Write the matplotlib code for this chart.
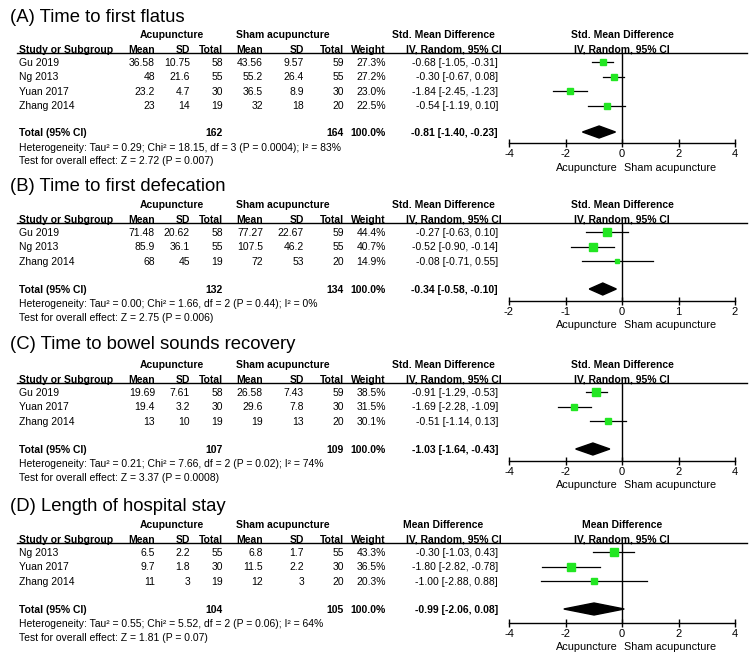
import matplotlib
matplotlib.use("Agg")
import matplotlib.pyplot as plt
from matplotlib.lines import Line2D
import numpy as np

plt.rcParams['font.family'] = ['Liberation Sans', 'DejaVu Sans']

# ---------------- data ----------------
A_title = "(A) Time to first flatus"
A_measure = "Std. Mean Difference"
A_studies = ["Gu 2019", "Ng 2013", "Yuan 2017", "Zhang 2014"]
A_acu_mean = [36.58, 48, 23.2, 23]
A_acu_sd = [10.75, 21.6, 4.7, 14]
A_acu_n = [58, 55, 30, 19]
A_sham_mean = [43.56, 55.2, 36.5, 32]
A_sham_sd = [9.57, 26.4, 8.9, 18]
A_sham_n = [59, 55, 30, 20]
A_weight = [27.3, 27.2, 23.0, 22.5]
A_est = [-0.68, -0.30, -1.84, -0.54]
A_lo = [-1.05, -0.67, -2.45, -1.19]
A_hi = [-0.31, 0.08, -1.23, 0.10]
A_total = [-0.81, -1.40, -0.23]
A_het = "Heterogeneity: Tau² = 0.29; Chi² = 18.15, df = 3 (P = 0.0004); I² = 83%"
A_test = "Test for overall effect: Z = 2.72 (P = 0.007)"
A_ticks = [-4, -2, 0, 2, 4]

B_title = "(B) Time to first defecation"
B_measure = "Std. Mean Difference"
B_studies = ["Gu 2019", "Ng 2013", "Zhang 2014"]
B_acu_mean = [71.48, 85.9, 68]
B_acu_sd = [20.62, 36.1, 45]
B_acu_n = [58, 55, 19]
B_sham_mean = [77.27, 107.5, 72]
B_sham_sd = [22.67, 46.2, 53]
B_sham_n = [59, 55, 20]
B_weight = [44.4, 40.7, 14.9]
B_est = [-0.27, -0.52, -0.08]
B_lo = [-0.63, -0.90, -0.71]
B_hi = [0.10, -0.14, 0.55]
B_total = [-0.34, -0.58, -0.10]
B_het = "Heterogeneity: Tau² = 0.00; Chi² = 1.66, df = 2 (P = 0.44); I² = 0%"
B_test = "Test for overall effect: Z = 2.75 (P = 0.006)"
B_ticks = [-2, -1, 0, 1, 2]

C_title = "(C) Time to bowel sounds recovery"
C_measure = "Std. Mean Difference"
C_studies = ["Gu 2019", "Yuan 2017", "Zhang 2014"]
C_acu_mean = [19.69, 19.4, 13]
C_acu_sd = [7.61, 3.2, 10]
C_acu_n = [58, 30, 19]
C_sham_mean = [26.58, 29.6, 19]
C_sham_sd = [7.43, 7.8, 13]
C_sham_n = [59, 30, 20]
C_weight = [38.5, 31.5, 30.1]
C_est = [-0.91, -1.69, -0.51]
C_lo = [-1.29, -2.28, -1.14]
C_hi = [-0.53, -1.09, 0.13]
C_total = [-1.03, -1.64, -0.43]
C_het = "Heterogeneity: Tau² = 0.21; Chi² = 7.66, df = 2 (P = 0.02); I² = 74%"
C_test = "Test for overall effect: Z = 3.37 (P = 0.0008)"
C_ticks = [-4, -2, 0, 2, 4]

D_title = "(D) Length of hospital stay"
D_measure = "Mean Difference"
D_studies = ["Ng 2013", "Yuan 2017", "Zhang 2014"]
D_acu_mean = [6.5, 9.7, 11]
D_acu_sd = [2.2, 1.8, 3]
D_acu_n = [55, 30, 19]
D_sham_mean = [6.8, 11.5, 12]
D_sham_sd = [1.7, 2.2, 3]
D_sham_n = [55, 30, 20]
D_weight = [43.3, 36.5, 20.3]
D_est = [-0.30, -1.80, -1.00]
D_lo = [-1.03, -2.82, -2.88]
D_hi = [0.43, -0.78, 0.88]
D_total = [-0.99, -2.06, 0.08]
D_het = "Heterogeneity: Tau² = 0.55; Chi² = 5.52, df = 2 (P = 0.06); I² = 64%"
D_test = "Test for overall effect: Z = 1.81 (P = 0.07)"
D_ticks = [-4, -2, 0, 2, 4]

TOTAL_WEIGHT = 100.0

# ---------------- layout (pixels) ----------------
W, H = 750, 657
fig = plt.figure(figsize=(W / 100, H / 100), dpi=100)


def fx(x):
    return x / W


def fy(y):
    return 1 - y / H


FS = 7.5
GREEN = '#22E622'
COL_STUDY = 19
COL_AM, COL_ASD, COL_AN = 155, 190, 223
COL_SM, COL_SSD, COL_SN = 263, 304, 344
COL_W = 386
COL_CI = 498
PX0, PX1 = 509, 735
CAP = 3.6  # half cap height -> baseline offset


def txt(x, y, s, ha='left', bold=False, size=FS):
    fig.text(fx(x), fy(y + CAP * size / FS), s, ha=ha, va='baseline',
             fontsize=size, fontweight='bold' if bold else 'normal', color='black')


def panel(title, measure, studies, am, asd, an, sm, ssd, sn, wt, est, lo, hi,
          total, het, test, ticks, lay):
    t_y, h1, h2, line_y, row0, total_y, het_y, test_y, axis_y, side_y = lay
    step = 14.5
    rows = [row0 + i * step for i in range(len(studies))]

    fig.text(fx(10), fy(t_y + 6.2), title, ha='left', va='baseline', fontsize=13.3)

    # header
    txt(172, h1, "Acupuncture", ha='center', bold=True)
    txt(283, h1, "Sham acupuncture", ha='center', bold=True)
    txt(443, h1, measure, ha='center', bold=True)
    txt(622, h1, measure, ha='center', bold=True)
    txt(COL_STUDY, h2, "Study or Subgroup", bold=True)
    for c, s in [(COL_AM, "Mean"), (COL_ASD, "SD"), (COL_AN, "Total"),
                 (COL_SM, "Mean"), (COL_SSD, "SD"), (COL_SN, "Total"),
                 (COL_W, "Weight")]:
        txt(c, h2, s, ha='right', bold=True)
    txt(454, h2, "IV, Random, 95% CI", ha='center', bold=True)
    txt(622, h2, "IV, Random, 95% CI", ha='center', bold=True)
    fig.add_artist(Line2D([fx(17), fx(747)], [fy(line_y), fy(line_y)],
                          color='black', lw=1.0))

    # rows
    for i, y in enumerate(rows):
        txt(COL_STUDY, y, studies[i])
        txt(COL_AM, y, f"{am[i]:g}", ha='right')
        txt(COL_ASD, y, f"{asd[i]:g}", ha='right')
        txt(COL_AN, y, f"{an[i]:g}", ha='right')
        txt(COL_SM, y, f"{sm[i]:g}", ha='right')
        txt(COL_SSD, y, f"{ssd[i]:g}", ha='right')
        txt(COL_SN, y, f"{sn[i]:g}", ha='right')
        txt(COL_W, y, f"{wt[i]:.1f}%", ha='right')
        txt(COL_CI, y, f"{est[i]:.2f} [{lo[i]:.2f}, {hi[i]:.2f}]", ha='right')

    txt(COL_STUDY, total_y, "Total (95% CI)", bold=True)
    txt(COL_AN, total_y, f"{sum(an)}", ha='right', bold=True)
    txt(COL_SN, total_y, f"{sum(sn)}", ha='right', bold=True)
    txt(COL_W, total_y, f"{TOTAL_WEIGHT:.1f}%", ha='right', bold=True)
    txt(COL_CI, total_y, f"{total[0]:.2f} [{total[1]:.2f}, {total[2]:.2f}]",
        ha='right', bold=True)
    txt(COL_STUDY, het_y, het)
    txt(COL_STUDY, test_y, test)

    # forest axes
    ax = fig.add_axes([fx(PX0), fy(axis_y), fx(PX1) - fx(PX0),
                       (axis_y - line_y) / H])
    ax.set_xlim(ticks[0], ticks[-1])
    ax.set_ylim(axis_y, line_y)
    ax.patch.set_alpha(0)
    for s in ['top', 'left', 'right']:
        ax.spines[s].set_visible(False)
    ax.spines['bottom'].set_linewidth(1.0)
    ax.set_xticks(ticks)
    ax.set_xticklabels([f"{t:g}" for t in ticks])
    ax.set_yticks([])
    ax.tick_params(axis='x', direction='inout', length=6, width=1,
                   labelsize=8, pad=1.5)
    ax.axvline(0, color='black', lw=1.0)
    for i, y in enumerate(rows):
        ax.plot([lo[i], hi[i]], [y, y], color='black', lw=0.9, zorder=2,
                clip_on=False)
        side = 1.2 * np.sqrt(wt[i]) * 0.72
        ax.plot([est[i]], [y], marker='s', ms=side, color=GREEN,
                mec=GREEN, zorder=3, clip_on=False)
    hh = 6
    ax.fill([total[1], total[0], total[2], total[0]],
            [total_y, total_y - hh, total_y, total_y + hh],
            color='black', zorder=3, clip_on=False)
    fig.text(fx(587), fy(side_y + 3.8), "Acupuncture", ha='center',
             va='baseline', fontsize=7.8)
    fig.text(fx(670), fy(side_y + 3.8), "Sham acupuncture", ha='center',
             va='baseline', fontsize=7.8)


panel(A_title, A_measure, A_studies, A_acu_mean, A_acu_sd, A_acu_n,
      A_sham_mean, A_sham_sd, A_sham_n, A_weight, A_est, A_lo, A_hi,
      A_total, A_het, A_test, A_ticks,
      (16, 34, 49, 53, 62, 132, 147, 160, 143, 167))
panel(B_title, B_measure, B_studies, B_acu_mean, B_acu_sd, B_acu_n,
      B_sham_mean, B_sham_sd, B_sham_n, B_weight, B_est, B_lo, B_hi,
      B_total, B_het, B_test, B_ticks,
      (185, 204, 219, 223, 232, 289, 303, 317, 301, 324))
panel(C_title, C_measure, C_studies, C_acu_mean, C_acu_sd, C_acu_n,
      C_sham_mean, C_sham_sd, C_sham_n, C_weight, C_est, C_lo, C_hi,
      C_total, C_het, C_test, C_ticks,
      (343, 364, 379, 383, 392, 449, 463, 477, 461, 484))
panel(D_title, D_measure, D_studies, D_acu_mean, D_acu_sd, D_acu_n,
      D_sham_mean, D_sham_sd, D_sham_n, D_weight, D_est, D_lo, D_hi,
      D_total, D_het, D_test, D_ticks,
      (505, 524, 539, 543, 552, 609, 623, 637, 623, 646))

fig.savefig("out.png", dpi=100, facecolor='white')
